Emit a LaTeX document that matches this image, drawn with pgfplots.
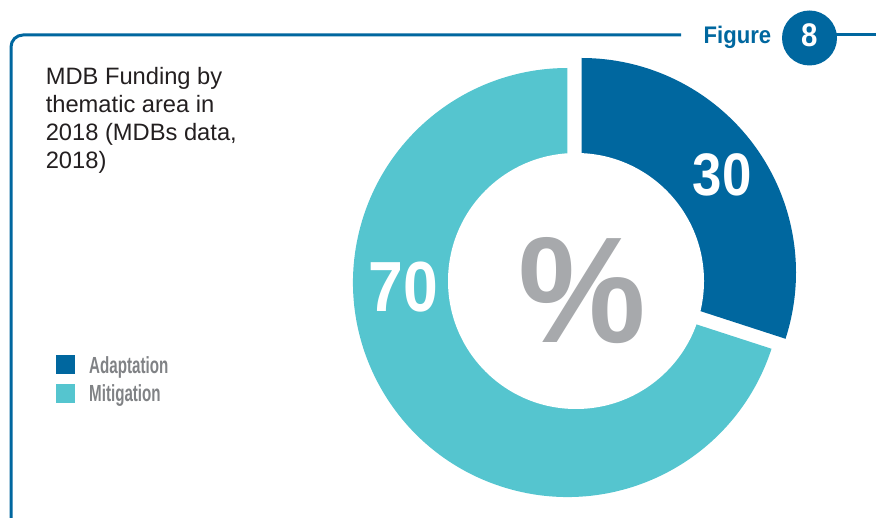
\documentclass[border=0pt]{standalone}
\usepackage{fontspec}
\setmainfont{Liberation Sans}
\usepackage{graphicx}
\usepackage{pgfplots}
\usepackage{pgfplotstable}
\pgfplotsset{compat=1.18}
\definecolor{adapt}{HTML}{00679F}
\definecolor{mitig}{HTML}{55C5CF}
\definecolor{pctgray}{HTML}{A7A9AC}
\definecolor{leggray}{HTML}{808285}
\definecolor{titletext}{HTML}{231F20}
\newcommand{\cond}[2]{\scalebox{#1}[1]{\bfseries #2}}

\pgfplotstableread{
label value
Adaptation 30
Mitigation 70
}\donutdata

\begin{document}
\begin{tikzpicture}
\pgfplotstablegetelem{0}{value}\of\donutdata\edef\valA{\pgfplotsretval}
\pgfplotstablegetelem{1}{value}\of\donutdata\edef\valB{\pgfplotsretval}
\pgfmathsetmacro\tot{\valA+\valB}
\pgfmathsetmacro\angA{90-\valA/\tot*360}
\pgfmathsetmacro\angB{\angA-\valB/\tot*360}
\begin{axis}[
  width=876bp, height=518bp, scale only axis,
  xmin=0, xmax=876, ymin=0, ymax=518,
  enlargelimits=false, hide axis, clip=false,
]
% frame
\draw[adapt, line width=3bp, rounded corners=12bp]
  (axis cs:11,0) -- (axis cs:11,483) -- (axis cs:681,483);
\draw[adapt, line width=3bp] (axis cs:800,483.5) -- (axis cs:876,483.5);
\fill[adapt] (axis cs:809.5,480) circle[radius=27.5bp];
\node[text=white, inner sep=0pt, anchor=center, font=\fontsize{32.7bp}{36bp}\selectfont]
  at (axis cs:809.2,483) {\cond{0.9}{8}};
\node[text=adapt, inner sep=0pt, anchor=base west, font=\fontsize{24bp}{28bp}\selectfont]
  at (axis cs:703.5,474) {\cond{0.92}{Figure}};

% title
\begin{scope}[every node/.style={inner sep=0pt, anchor=base west, text=titletext,
   font=\fontsize{23.7bp}{28bp}\selectfont}]
\node at (axis cs:45.6,433.5) {MDB Funding by};
\node at (axis cs:45.6,405.5) {thematic area in};
\node at (axis cs:45.6,377.5) {2018 (MDBs data,};
\node at (axis cs:45.6,349.5) {2018)};
\end{scope}

% donut
\fill[mitig] (axis cs:567.5,235.5) -- ++(\angA:214.5bp)
   arc[start angle=\angA, end angle=\angB, radius=214.5bp] -- cycle;
\fill[adapt] (axis cs:581.5,245.5) -- ++(90:214.5bp)
   arc[start angle=90, end angle=\angA, radius=214.5bp] -- cycle;
\fill[white] (axis cs:576,237) circle[radius=128bp];

% value labels
\node[text=white, inner sep=0pt, anchor=center, font=\fontsize{60bp}{64bp}\selectfont]
  at (axis cs:722,343) {\cond{0.88}{\valA}};
\node[text=white, inner sep=0pt, anchor=center, font=\fontsize{71bp}{75bp}\selectfont]
  at (axis cs:403.7,231) {\cond{0.88}{\valB}};
\node[text=pctgray, inner sep=0pt, anchor=center, font=\fontsize{151bp}{155bp}\selectfont]
  at (axis cs:582.5,227) {\cond{0.95}{\%}};

% legend
\fill[adapt] (axis cs:56,144) rectangle (axis cs:75,163);
\fill[mitig] (axis cs:56,114.5) rectangle (axis cs:75,133.5);
\node[text=leggray, inner sep=0pt, anchor=base west, font=\fontsize{23.3bp}{27bp}\selectfont]
  at (axis cs:89,144.7) {\cond{0.65}{Adaptation}};
\node[text=leggray, inner sep=0pt, anchor=base west, font=\fontsize{23.3bp}{27bp}\selectfont]
  at (axis cs:89,116.3) {\cond{0.65}{Mitigation}};
\end{axis}
\pgfresetboundingbox
\useasboundingbox (0,0) rectangle (876bp,518bp);
\end{tikzpicture}
\end{document}
